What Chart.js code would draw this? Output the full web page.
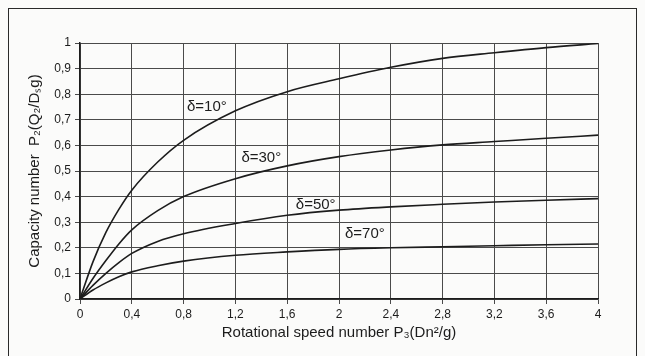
<!DOCTYPE html>
<html>
<head>
<meta charset="utf-8">
<script src="https://cdn.jsdelivr.net/npm/chart.js@4"></script>
<style>
  html, body { margin: 0; padding: 0; background: #fbfbfa; }
  #wrap { position: relative; width: 645px; height: 356px; overflow: hidden; }
  #frame { position: absolute; left: 8px; top: 8px; width: 627px; height: 400px; border: 1.5px solid #2a2a2a; }
  canvas { position: absolute; left: 0; top: 0; }
</style>
</head>
<body>
<div id="wrap">
  <div id="frame"></div>
  <canvas id="chart" width="645" height="356"></canvas>
</div>
<script>
// P3 values (x) where the curves were read
const speedNumbers = [0, 0.1, 0.2, 0.3, 0.4, 0.6, 0.8, 1.2, 1.6, 2, 2.4, 2.8, 3.2, 3.6, 4];

// capacity number P2 for each delta
const delta10 = [0, 0.145, 0.26, 0.35, 0.425, 0.535, 0.62, 0.735, 0.81, 0.86, 0.905, 0.94, 0.962, 0.982, 0.998];
const delta30 = [0, 0.08, 0.15, 0.215, 0.27, 0.345, 0.40, 0.47, 0.52, 0.556, 0.582, 0.602, 0.615, 0.628, 0.64];
const delta50 = [0, 0.053, 0.1, 0.142, 0.178, 0.225, 0.255, 0.295, 0.327, 0.347, 0.36, 0.37, 0.379, 0.386, 0.392];
const delta70 = [0, 0.035, 0.063, 0.087, 0.106, 0.13, 0.148, 0.171, 0.184, 0.194, 0.2, 0.204, 0.208, 0.212, 0.215];

const seriesNames = ['δ=10°', 'δ=30°', 'δ=50°', 'δ=70°'];
// where each curve name is written, in data units
const nameAtX = [0.98, 1.40, 1.82, 2.20];
const nameAtY = [0.75, 0.553, 0.369, 0.255];

const xTicks = [0, 0.4, 0.8, 1.2, 1.6, 2, 2.4, 2.8, 3.2, 3.6, 4];
const yTicks = [0, 0.1, 0.2, 0.3, 0.4, 0.5, 0.6, 0.7, 0.8, 0.9, 1];

const ink = '#1c1c1c';
const gridColor = '#4a4a4a';
const fontFamily = '"Liberation Sans", Arial, sans-serif';

const toPoints = vals => vals.map((v, i) => ({ x: speedNumbers[i], y: v }));
const comma = v => String(Number(v.toFixed(1))).replace('.', ',');

const curveLabels = {
  id: 'curveLabels',
  afterDatasetsDraw(chart) {
    const c = chart.ctx;
    const xs = chart.scales.x, ys = chart.scales.y;
    c.save();
    c.fillStyle = ink;
    c.font = '15px ' + fontFamily;
    c.textAlign = 'center';
    c.textBaseline = 'middle';
    seriesNames.forEach((name, i) => {
      c.fillText(name, xs.getPixelForValue(nameAtX[i]), ys.getPixelForValue(nameAtY[i]));
    });
    c.restore();
  }
};

const lineStyle = {
  borderColor: ink,
  borderWidth: 1.6,
  pointRadius: 0,
  fill: false,
  cubicInterpolationMode: 'monotone'
};

new Chart(document.getElementById('chart'), {
  type: 'line',
  data: {
    datasets: [
      { label: seriesNames[0], data: toPoints(delta10), ...lineStyle },
      { label: seriesNames[1], data: toPoints(delta30), ...lineStyle },
      { label: seriesNames[2], data: toPoints(delta50), ...lineStyle },
      { label: seriesNames[3], data: toPoints(delta70), ...lineStyle }
    ]
  },
  options: {
    responsive: false,
    animation: false,
    layout: { padding: { top: 43, right: 47, bottom: 14, left: 26 } },
    plugins: {
      legend: { display: false },
      tooltip: { enabled: false }
    },
    scales: {
      x: {
        type: 'linear',
        min: 0,
        max: 4,
        afterBuildTicks: scale => { scale.ticks = xTicks.map(v => ({ value: v })); },
        afterFit: scale => { scale.height = 43; },
        ticks: {
          color: ink,
          font: { size: 12, family: fontFamily },
          padding: 3,
          maxRotation: 0,
          callback: v => comma(v)
        },
        grid: { color: gridColor, lineWidth: 1, tickLength: 5, tickColor: gridColor },
        border: { color: ink, width: 1.5 },
        title: {
          display: true,
          text: 'Rotational speed number P₃(Dn²/g)',
          color: ink,
          font: { size: 15, family: fontFamily },
          padding: { top: 2, bottom: 0 }
        }
      },
      y: {
        type: 'linear',
        min: 0,
        max: 1,
        afterBuildTicks: scale => { scale.ticks = yTicks.map(v => ({ value: v })); },
        afterFit: scale => { scale.width = 54; },
        ticks: {
          color: ink,
          font: { size: 12, family: fontFamily },
          padding: 4,
          callback: v => comma(v)
        },
        grid: { color: gridColor, lineWidth: 1, tickLength: 5, tickColor: gridColor },
        border: { color: ink, width: 1.5 },
        title: {
          display: true,
          text: 'Capacity number  P₂(Q₂/Dₛg)',
          color: ink,
          font: { size: 15, family: fontFamily },
          padding: { top: 0, bottom: 4 }
        }
      }
    }
  },
  plugins: [curveLabels]
});
</script>
</body>
</html>
